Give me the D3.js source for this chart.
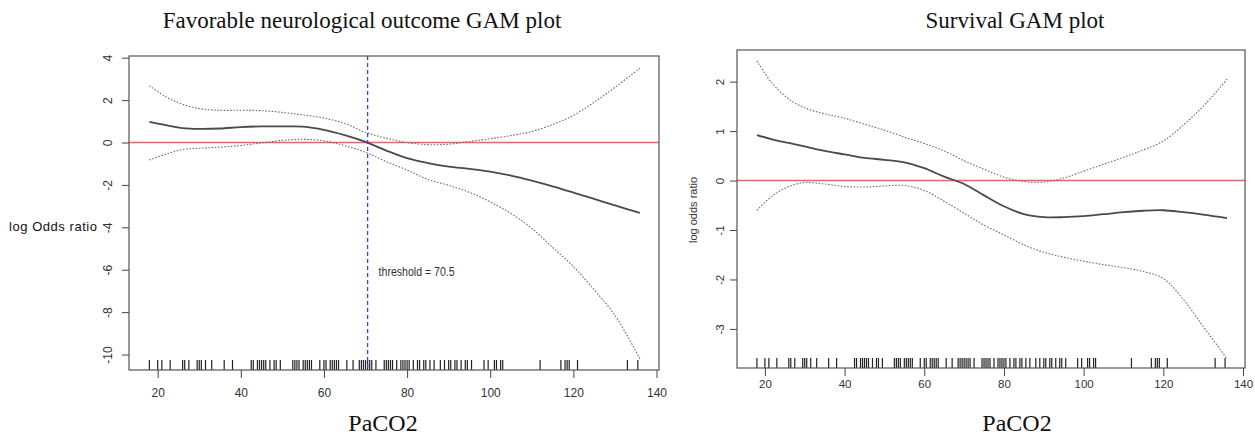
<!DOCTYPE html>
<html>
  <head>
    <meta charset="utf-8">
    <title>GAM plots</title>
    <script src="https://d3js.org/d3.v7.min.js"></script>
    <style>
      body { margin: 0; background: #fff; }
      svg { display: block; }
    </style>
  </head>
  <body>
    <div id="chart"></div>
    <script>
      // PaCO2 grid used for the smooth curves
      var grid = [18, 22, 26, 30, 35, 40, 45, 50, 55, 60, 65, 70, 75, 80, 85, 90, 95, 100, 105, 110, 115, 120, 125, 130, 136];

      // Favorable neurological outcome: fit and confidence band
      var neuroFit   = [0.97, 0.82, 0.68, 0.64, 0.66, 0.73, 0.76, 0.76, 0.75, 0.6, 0.35, 0.03, -0.38, -0.74, -0.97, -1.14, -1.24, -1.37, -1.56, -1.8, -2.07, -2.36, -2.66, -2.97, -3.32];
      var neuroUpper = [2.68, 2.15, 1.8, 1.6, 1.52, 1.52, 1.5, 1.42, 1.3, 1.15, 0.9, 0.48, 0.2, 0.0, -0.1, -0.08, 0.05, 0.18, 0.33, 0.52, 0.85, 1.28, 1.9, 2.6, 3.5];
      var neuroLower = [-0.83, -0.55, -0.33, -0.27, -0.22, -0.14, -0.02, 0.1, 0.15, 0.08, -0.15, -0.46, -0.9, -1.3, -1.74, -2.02, -2.35, -2.8, -3.35, -4.05, -4.95, -5.85, -6.95, -8.15, -10.2];

      // Survival: fit and confidence band
      var survFit   = [0.92, 0.83, 0.76, 0.69, 0.6, 0.53, 0.46, 0.42, 0.37, 0.25, 0.08, -0.07, -0.3, -0.52, -0.68, -0.74, -0.74, -0.72, -0.68, -0.64, -0.61, -0.6, -0.64, -0.69, -0.76];
      var survUpper = [2.42, 1.95, 1.65, 1.47, 1.35, 1.26, 1.14, 1.02, 0.88, 0.75, 0.6, 0.4, 0.23, 0.07, -0.02, -0.03, 0.05, 0.19, 0.33, 0.47, 0.62, 0.8, 1.12, 1.5, 2.05];
      var survLower = [-0.6, -0.3, -0.12, -0.04, -0.07, -0.12, -0.13, -0.11, -0.1, -0.2, -0.42, -0.66, -0.9, -1.1, -1.3, -1.45, -1.55, -1.63, -1.7, -1.76, -1.84, -1.98, -2.4, -2.95, -3.6];

      // observed PaCO2 values (rug)
      var rug = [18, 20, 21, 23, 26, 26.5, 27.5, 29.5, 30, 30.5, 31.5, 33, 36, 38, 42.5, 43, 44, 44.5, 45, 45.5, 46, 47, 48, 48.5, 49.5,
                 52.5, 53, 53.5, 54, 55, 55.5, 56, 56.5, 57, 59, 60, 60.5, 61.5, 62, 62.5, 63, 63.5, 65.5, 67, 68.5, 69, 69.5, 70, 70.5,
                 71, 71.5, 72.5, 74.5, 75, 75.5, 76, 76.5, 77.5, 78.5, 79, 79.5, 80, 80.5, 81.5, 82.5, 83, 84, 84.5, 85.5, 86.5, 88, 89,
                 90, 90.5, 91.5, 92, 93, 94, 94.5, 95.5, 98.5, 99.5, 101, 101.5, 102.5, 103, 112, 117, 118, 118.5, 119, 121, 133, 135.5];

      var xTicks = [20, 40, 60, 80, 100, 120, 140];
      var neuroYTicks = [-10, -8, -6, -4, -2, 0, 2, 4];
      var survYTicks = [-3, -2, -1, 0, 1, 2];
      var threshold = 70.5;

      var svg = d3.select("#chart")
        .append("svg")
          .attr("width", 1255)
          .attr("height", 438);

      svg.append("rect").attr("width", 1255).attr("height", 438).attr("fill", "#fff");

      // R prints a plain hyphen for negatives
      var fmt = function(d) { return String(d); };

      function panel(opt) {
        var x = d3.scaleLinear().domain(opt.xDomain).range([opt.left, opt.right]);
        var y = d3.scaleLinear().domain(opt.yDomain).range([opt.bottom, opt.top]);
        var g = svg.append("g");

        // x axis
        var xa = g.append("g")
          .attr("transform", "translate(0," + opt.bottom + ")")
          .call(d3.axisBottom(x).tickValues(xTicks).tickFormat(fmt).tickSize(8).tickPadding(opt.xPad));
        xa.select(".domain").remove();
        xa.selectAll("line").attr("stroke", "#444");
        xa.selectAll("text")
          .attr("fill", "#333")
          .style("font-family", "Liberation Sans, Arial, sans-serif")
          .style("font-size", opt.tickFont + "px");

        // y axis, labels rotated like R
        var ya = g.append("g")
          .attr("transform", "translate(" + opt.left + ",0)")
          .call(d3.axisLeft(y).tickValues(opt.yTicks).tickFormat(fmt).tickSize(7));
        ya.select(".domain").remove();
        ya.selectAll("line").attr("stroke", "#444");
        ya.selectAll("text")
          .attr("x", null).attr("dy", null)
          .attr("text-anchor", "middle")
          .attr("transform", "translate(" + (-opt.yPad) + ",0) rotate(-90)")
          .attr("fill", "#333")
          .style("font-family", "Liberation Sans, Arial, sans-serif")
          .style("font-size", opt.tickFont + "px");

        // reference line at 0
        g.append("line")
          .attr("x1", opt.left).attr("x2", opt.right)
          .attr("y1", y(0)).attr("y2", y(0))
          .attr("stroke", "#e06a6a").attr("stroke-width", 1.6);

        var line = function(vals) {
          return d3.line()
            .x(function(d, i) { return x(grid[i]); })
            .y(function(d) { return y(d); })
            .curve(d3.curveCatmullRom)(vals);
        };

        g.append("path").attr("d", line(opt.upper))
          .attr("fill", "none").attr("stroke", "#6e6e6e").attr("stroke-width", 1.1)
          .attr("stroke-dasharray", "1.6,1.6");
        g.append("path").attr("d", line(opt.lower))
          .attr("fill", "none").attr("stroke", "#6e6e6e").attr("stroke-width", 1.1)
          .attr("stroke-dasharray", "1.6,1.6");
        g.append("path").attr("d", line(opt.fit))
          .attr("fill", "none").attr("stroke", "#4a4a4a").attr("stroke-width", 1.8);

        // rug
        g.selectAll(".rug")
          .data(rug)
          .enter()
          .append("line")
            .attr("x1", function(d) { return x(d); })
            .attr("x2", function(d) { return x(d); })
            .attr("y1", opt.bottom)
            .attr("y2", opt.bottom - 10)
            .attr("stroke", "#222")
            .attr("stroke-width", 1.2);

        // box
        g.append("rect")
          .attr("x", opt.left).attr("y", opt.top)
          .attr("width", opt.right - opt.left).attr("height", opt.bottom - opt.top)
          .attr("fill", "none").attr("stroke", "#555").attr("stroke-width", 1.2);

        // title
        g.append("text")
          .attr("x", opt.titleX).attr("y", 28)
          .attr("text-anchor", "middle")
          .style("font-family", "Liberation Serif, Times New Roman, serif")
          .style("font-size", "23px")
          .attr("fill", "#111")
          .text(opt.title);

        // x label
        g.append("text")
          .attr("x", opt.xLabelX).attr("y", 431)
          .attr("text-anchor", "middle")
          .style("font-family", "Liberation Serif, Times New Roman, serif")
          .style("font-size", "24px")
          .attr("fill", "#111")
          .text("PaCO2");

        return {x: x, y: y, g: g};
      }

      var p1 = panel({
        left: 129, right: 659, top: 56, bottom: 370,
        xDomain: [13.1, 140.6], yDomain: [-10.73, 4.08],
        yTicks: neuroYTicks, xPad: 10, yPad: 17, tickFont: 12,
        fit: neuroFit, upper: neuroUpper, lower: neuroLower,
        title: "Favorable neurological  outcome GAM plot", titleX: 362, xLabelX: 383
      });

      var p2 = panel({
        left: 737, right: 1245, top: 50, bottom: 368,
        xDomain: [13, 140.5], yDomain: [-3.79, 2.64],
        yTicks: survYTicks, xPad: 4, yPad: 13, tickFont: 11.5,
        fit: survFit, upper: survUpper, lower: survLower,
        title: "Survival GAM plot", titleX: 1015, xLabelX: 1017
      });

      // threshold line and label
      p1.g.append("line")
        .attr("x1", p1.x(threshold)).attr("x2", p1.x(threshold))
        .attr("y1", 56).attr("y2", 370)
        .attr("stroke", "#3c3ce8").attr("stroke-width", 1.3)
        .attr("stroke-dasharray", "4,3");
      p1.g.append("text")
        .attr("x", p1.x(threshold) + 11).attr("y", 276)
        .style("font-family", "Liberation Sans, Arial, sans-serif")
        .style("font-size", "12.5px")
        .attr("textLength", 76)
        .attr("lengthAdjust", "spacingAndGlyphs")
        .attr("fill", "#333")
        .text("threshold = " + threshold);

      // y axis titles
      svg.append("text")
        .attr("x", 9).attr("y", 231)
        .style("font-family", "Liberation Sans, Arial, sans-serif")
        .style("font-size", "13px")
        .attr("textLength", 88)
        .attr("fill", "#111")
        .text("log Odds ratio");

      svg.append("text")
        .attr("transform", "translate(697,210) rotate(-90)")
        .attr("text-anchor", "middle")
        .style("font-family", "Liberation Sans, Arial, sans-serif")
        .style("font-size", "11px")
        .attr("fill", "#333")
        .text("log odds ratio");
    </script>
  </body>
</html>
